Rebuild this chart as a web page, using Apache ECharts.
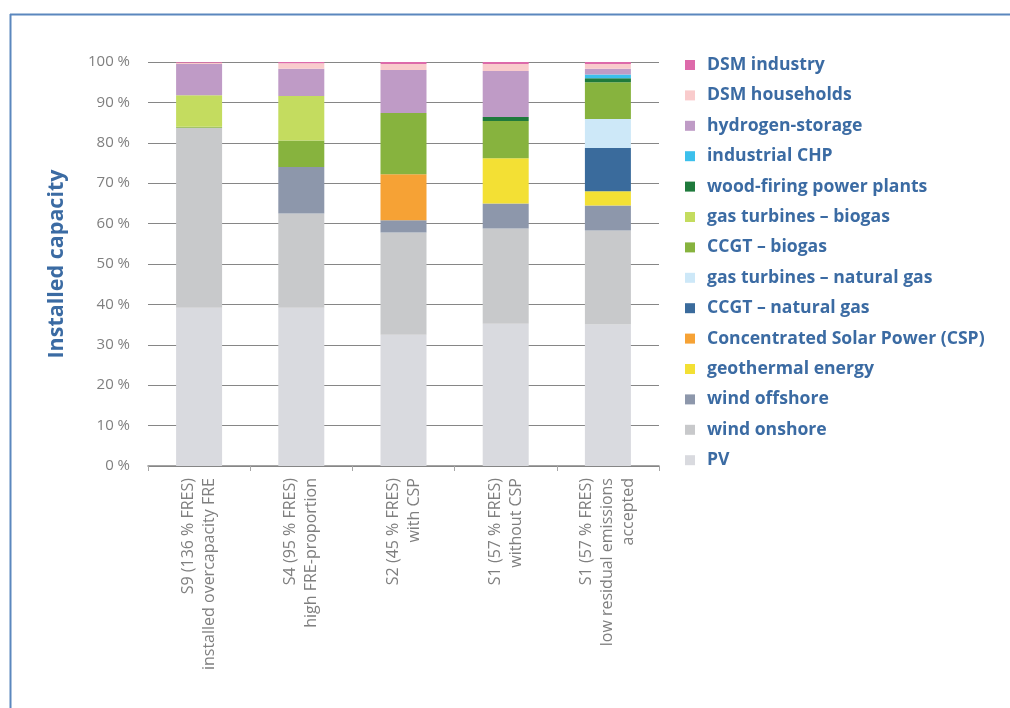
<!DOCTYPE html>
<html>
<head>
<meta charset="utf-8">
<script src="https://cdn.jsdelivr.net/npm/echarts@6/dist/echarts.min.js"></script>
<style>
html,body{margin:0;padding:0;background:#fff;}
#chart{width:1010px;height:708px;}
</style>
</head>
<body>
<div id="chart"></div>
<script>
const categories = [
  "S9 (136 % FRES)\ninstalled overcapacity FRE",
  "S4 (95 % FRES)\nhigh FRE-proportion",
  "S2 (45 % FRES)\nwith CSP",
  "S1 (57 % FRES)\nwithout CSP",
  "S1 (57 % FRES)\nlow residual emissions\naccepted"
];
const yTicks = [0,10,20,30,40,50,60,70,80,90,100];

const PV                 = [39.2, 39.2, 32.5, 35.2, 35.0];
const windOnshore        = [44.5, 23.3, 25.3, 23.6, 23.3];
const windOffshore       = [0,    11.5,  3.0,  6.2,  6.2];
const geothermal         = [0,     0,    0,   11.2,  3.5];
const CSP                = [0,     0,   11.4,  0,    0];
const CCGTnaturalGas     = [0,     0,    0,    0,   10.7];
const gasTurbNaturalGas  = [0,     0,    0,    0,    7.2];
const CCGTbiogas         = [0.3,   6.6, 15.2,  9.2,  9.1];
const gasTurbBiogas      = [7.8,  11.0,  0,    0,    0];
const woodFiring         = [0,     0,    0,    1.0,  1.0];
const industrialCHP      = [0,     0,    0,    0,    0.9];
const hydrogenStorage    = [7.7,   6.7, 10.6, 11.4,  1.4];
const DSMhouseholds      = [0.3,   1.4,  1.5,  1.7,  1.2];
const DSMindustry        = [0.2,   0.3,  0.5,  0.5,  0.5];

const seriesDefs = [
  ["PV", PV, "#d9dadf"],
  ["wind onshore", windOnshore, "#c8c9cb"],
  ["wind offshore", windOffshore, "#8d97ab"],
  ["geothermal energy", geothermal, "#f3e034"],
  ["Concentrated Solar Power (CSP)", CSP, "#f6a235"],
  ["CCGT – natural gas", CCGTnaturalGas, "#3a6b9c"],
  ["gas turbines – natural gas", gasTurbNaturalGas, "#cde8f8"],
  ["CCGT – biogas", CCGTbiogas, "#87b33e"],
  ["gas turbines – biogas", gasTurbBiogas, "#c4dc5f"],
  ["wood-firing power plants", woodFiring, "#1f7a3c"],
  ["industrial CHP", industrialCHP, "#3cc0ec"],
  ["hydrogen-storage", hydrogenStorage, "#bf9bc6"],
  ["DSM households", DSMhouseholds, "#f9cbcc"],
  ["DSM industry", DSMindustry, "#dd6aaa"]
];

const FONT = "'Open Sans', Lato, sans-serif";
const chart = echarts.init(document.getElementById('chart'), null, {renderer:'canvas'});
chart.setOption({
  animation: false,
  backgroundColor: '#ffffff',
  textStyle: {fontFamily: FONT},
  graphic: [
    {type:'line', shape:{x1:10, y1:14.5, x2:1010, y2:14.5}, style:{stroke:'#5b87be', lineWidth:2}},
    {type:'line', shape:{x1:10.5, y1:14, x2:10.5, y2:708}, style:{stroke:'#5b87be', lineWidth:2}}
  ],
  grid: {left:148, right:351, top:62, bottom:242, containLabel:false},
  legend: {
    orient:'vertical',
    left: 680,
    top: 50,
    itemWidth: 10,
    itemHeight: 10,
    itemGap: 10.4,
    icon: 'rect',
    data: seriesDefs.map(d => d[0]).slice().reverse(),
    textStyle: {fontFamily: FONT, fontSize: 17.6, fontWeight: 'bold', color: '#3b6ba3', lineHeight: 20, padding:[0,0,0,7]}
  },
  xAxis: {
    type:'category',
    data: categories,
    axisLine: {lineStyle:{color:'#868686', width:1.5}},
    axisTick: {show:true, length:5, lineStyle:{color:'#a6a6a6'}},
    axisLabel: {rotate:90, margin:12, color:'#7f7f7f', fontSize:16, lineHeight:21, fontFamily: FONT, interval:0}
  },
  yAxis: {
    type:'value',
    min: yTicks[0],
    max: yTicks[yTicks.length-1],
    interval: 10,
    name: 'Installed capacity',
    nameLocation: 'middle',
    nameGap: 80,
    nameTextStyle: {fontFamily: FONT, fontSize: 21.5, fontWeight:'bold', color:'#3b6ba3'},
    axisLine: {show:false},
    axisTick: {show:false},
    axisLabel: {formatter: '{value} %', color:'#7f7f7f', fontSize:15, margin:18, fontFamily: FONT},
    splitLine: {lineStyle:{color:'#868686', width:1}}
  },
  series: seriesDefs.map(d => ({
    name: d[0],
    type: 'bar',
    stack: 'total',
    barWidth: 46,
    data: d[1],
    itemStyle: {color: d[2]}
  }))
});
</script>
</body>
</html>
